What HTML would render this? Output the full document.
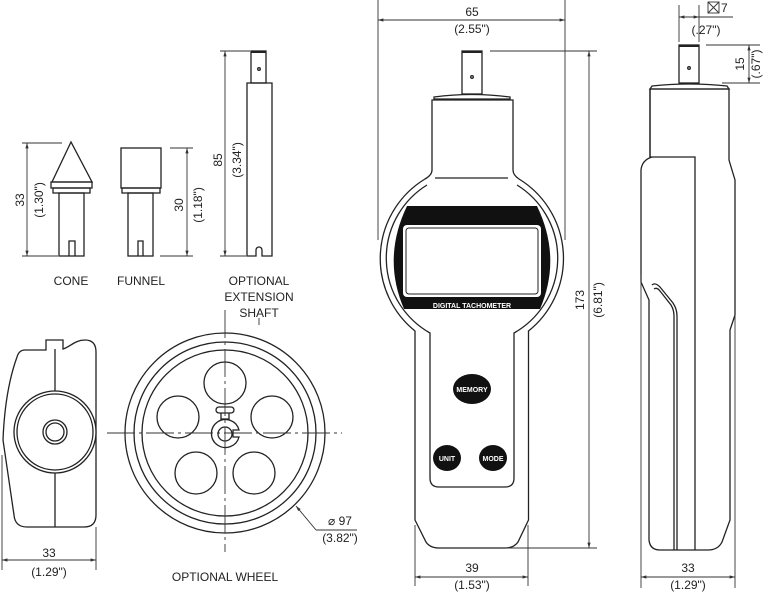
<!DOCTYPE html>
<html><head><meta charset="utf-8"><style>
html,body{margin:0;padding:0;background:#fff;}
svg{display:block;}
text{font-family:"Liberation Sans",sans-serif;font-size:12px;fill:#222;}
</style></head><body>
<svg width="764" height="592" viewBox="0 0 764 592" xmlns="http://www.w3.org/2000/svg">
<defs>
<marker id="a" viewBox="0 0 10 10" refX="10" refY="5" markerWidth="6" markerHeight="6" orient="auto-start-reverse"><path d="M0,2 L10,5 L0,8 z" fill="#333"/></marker>
</defs>
<g fill="none" stroke="#222" stroke-width="1.3">
<!-- CONE -->
<path d="M71,142 L52,182 L92,182 Z"/>
<rect x="51" y="182" width="41" height="6"/>
<rect x="53" y="188" width="37" height="5"/>
<rect x="59" y="193" width="25" height="63"/>
<path d="M69,256 V241 H75 V256"/>
<!-- FUNNEL -->
<rect x="121" y="148" width="40" height="40"/>
<rect x="122" y="188" width="38" height="5"/>
<rect x="128" y="193" width="25" height="63"/>
<path d="M138,256 V241 H143 V256"/>
<!-- SHAFT -->
<rect x="251" y="51" width="15" height="32"/>
<line x1="251" y1="52" x2="266" y2="52" stroke-width="2"/>
<circle cx="259" cy="69" r="1.3"/>
<path d="M247,83 H272 V256 H262 V250 A3,3 0 0 0 256,250 V256 H247 Z"/>
<!-- side attachment -->
<path d="M25,350 H46 V340 H63 V349 C70,347 75,340 85,340 Q96,340 96,352 V515 Q96,527 84,527 H27 Q15,527 14,515 L3,440 Q5,390 17,357 Q19,350 25,350 Z"/>
<line x1="55" y1="349" x2="55" y2="527"/>
<circle cx="55" cy="432" r="41" fill="#fff"/>
<circle cx="55" cy="432" r="38"/>
<circle cx="55" cy="432" r="12"/>
<circle cx="55" cy="432" r="9"/>
<!-- WHEEL -->
<circle cx="225" cy="433" r="100"/>
<circle cx="225" cy="433" r="91"/>
<circle cx="225" cy="433" r="83"/>
<circle cx="225" cy="383" r="21"/>
<circle cx="178" cy="417" r="21"/>
<circle cx="272" cy="417" r="21"/>
<circle cx="196" cy="473" r="21"/>
<circle cx="254" cy="473" r="21"/>
<path d="M239,437 A14,14 0 1 1 239,430 H233 V437 Z" fill="#fff"/>
<circle cx="225" cy="434" r="7"/>
<rect x="221" y="411" width="8" height="8" fill="#fff"/>
<rect x="216" y="407" width="18" height="6" rx="3" fill="#fff"/>
</g>
<g stroke="#333" stroke-width="0.9" fill="none">
<path d="M107,433 H342" stroke-dasharray="28,4,3,4"/>
<path d="M225,310 V552" stroke-dasharray="28,4,3,4"/>
<path d="M316,530 L296,506" marker-end="url(#a)"/>
<line x1="316" y1="530" x2="357" y2="530"/>
<line x1="22" y1="143" x2="62" y2="143"/><line x1="22" y1="256" x2="58" y2="256"/>
<line x1="27" y1="143" x2="27" y2="256" marker-start="url(#a)" marker-end="url(#a)"/>
<line x1="170" y1="148" x2="193" y2="148"/><line x1="160" y1="256" x2="193" y2="256"/>
<line x1="187" y1="148" x2="187" y2="256" marker-start="url(#a)" marker-end="url(#a)"/>
<line x1="220" y1="51" x2="250" y2="51"/><line x1="220" y1="256" x2="246" y2="256"/>
<line x1="225" y1="51" x2="225" y2="256" marker-start="url(#a)" marker-end="url(#a)"/>
<line x1="2" y1="455" x2="2" y2="570"/><line x1="96" y1="527" x2="96" y2="570"/>
<line x1="2" y1="560" x2="96" y2="560" marker-start="url(#a)" marker-end="url(#a)"/>
<line x1="259" y1="318" x2="259" y2="325"/>
</g>
<text x="71" y="285" text-anchor="middle">CONE</text>
<text x="141" y="285" text-anchor="middle">FUNNEL</text>
<text x="259" y="285" text-anchor="middle">OPTIONAL</text>
<text x="259" y="301" text-anchor="middle">EXTENSION</text>
<text x="259" y="317" text-anchor="middle">SHAFT</text>
<text transform="translate(24,200) rotate(-90)" text-anchor="middle">33</text>
<text transform="translate(43,200) rotate(-90)" text-anchor="middle">(1.30")</text>
<text transform="translate(183,205) rotate(-90)" text-anchor="middle">30</text>
<text transform="translate(202,205) rotate(-90)" text-anchor="middle">(1.18")</text>
<text transform="translate(222,160) rotate(-90)" text-anchor="middle">85</text>
<text transform="translate(241,160) rotate(-90)" text-anchor="middle">(3.34")</text>
<text x="49" y="557" text-anchor="middle">33</text>
<text x="49" y="576" text-anchor="middle">(1.29")</text>
<text x="340" y="525" text-anchor="middle">⌀ 97</text>
<text x="340" y="542" text-anchor="middle">(3.82")</text>
<text x="225" y="581" text-anchor="middle">OPTIONAL WHEEL</text>

<!-- MAIN DEVICE -->
<g fill="none" stroke="#222" stroke-width="1.3">
<rect x="462" y="51" width="20" height="43"/>
<line x1="462" y1="52" x2="482" y2="52" stroke-width="2"/>
<circle cx="472" cy="77" r="1.3"/>
<path d="M434,97 Q472,92 510,97 L510,99 H434 Z"/>
<path d="M432,100 H513 V170 Q513,175 519,179 A93,93 0 0 1 528.5,331 V520 L518,542 Q514,548 505,548 H439 Q430,548 426,542 L415,520 V331 A93,93 0 0 1 425,179 Q432,175 432,170 Z"/>
<line x1="435" y1="178" x2="508" y2="178"/>
<path d="M427,185 A86,86 0 0 0 430,333 V478 Q430,487 439,487 H505 Q514,487 514,478 V333 A86,86 0 0 0 517,185"/>
</g>
<path d="M407,206 H537 Q562,258 540,309 H404 Q382,258 407,206 Z" fill="#111"/>
<rect x="403" y="225" width="138" height="72" rx="4" fill="#fff"/>
<rect x="406" y="228" width="132" height="66" rx="3" fill="none" stroke="#222" stroke-width="1"/>
<text x="472" y="308" text-anchor="middle" style="font-size:7px;font-weight:bold;fill:#fff">DIGITAL TACHOMETER</text>
<ellipse cx="472" cy="389" rx="19" ry="15" fill="#111"/>
<ellipse cx="447" cy="458" rx="14" ry="13" fill="#111"/>
<ellipse cx="493" cy="458" rx="14" ry="13" fill="#111"/>
<text x="472" y="392" text-anchor="middle" style="font-size:7px;font-weight:bold;fill:#fff">MEMORY</text>
<text x="447" y="461" text-anchor="middle" style="font-size:7px;font-weight:bold;fill:#fff">UNIT</text>
<text x="493" y="461" text-anchor="middle" style="font-size:7px;font-weight:bold;fill:#fff">MODE</text>
<g stroke="#333" stroke-width="0.9" fill="none">
<line x1="378" y1="0" x2="378" y2="240"/><line x1="565" y1="0" x2="565" y2="240"/>
<line x1="378" y1="20" x2="565" y2="20" marker-start="url(#a)" marker-end="url(#a)"/>
<line x1="490" y1="51" x2="597" y2="51"/><line x1="505" y1="548" x2="597" y2="548"/>
<line x1="589" y1="51" x2="589" y2="548" marker-start="url(#a)" marker-end="url(#a)"/>
<line x1="415" y1="525" x2="415" y2="586"/><line x1="528" y1="525" x2="528" y2="586"/>
<line x1="415" y1="577" x2="528" y2="577" marker-start="url(#a)" marker-end="url(#a)"/>
</g>
<text x="472" y="16" text-anchor="middle">65</text>
<text x="472" y="33" text-anchor="middle">(2.55")</text>
<text transform="translate(584,300) rotate(-90)" text-anchor="middle">173</text>
<text transform="translate(602,300) rotate(-90)" text-anchor="middle">(6.81")</text>
<text x="472" y="572" text-anchor="middle">39</text>
<text x="472" y="589" text-anchor="middle">(1.53")</text>

<!-- SIDE VIEW -->
<g fill="none" stroke="#222" stroke-width="1.3">
<rect x="679" y="45" width="20" height="38"/>
<line x1="679" y1="46" x2="699" y2="46" stroke-width="2"/>
<circle cx="689" cy="68" r="1.3"/>
<path d="M652,86 Q689,82 727,86 L729,89 H650 Z"/>
<path d="M650,89 H729 V160 L735,180 V315 L730,330 V520 L722,542 Q718,550 708,550 H660 Q650,550 649,540 V300 L641,282 V170 Q642,160 652,157 H650 Z"/>
<path d="M650,89 V157"/>
<path d="M652,157 H695 V550"/>
<path d="M652,285 Q655,282 660,287 L673,303 Q677,309 677,316 V550"/>
<path d="M654,289 Q657,287 660,291 L671,305 Q674,310 674,316 V550"/>
</g>
<g stroke="#333" stroke-width="0.9" fill="none">
<line x1="679" y1="5" x2="679" y2="42"/><line x1="699" y1="5" x2="699" y2="42"/>
<line x1="679" y1="17" x2="699" y2="17" marker-start="url(#a)" marker-end="url(#a)"/>
<line x1="699" y1="17" x2="733" y2="17"/>
<rect x="708" y="2" width="11" height="11"/>
<path d="M708,2 L719,13 M719,2 L708,13"/>
<line x1="706" y1="45" x2="760" y2="45"/><line x1="722" y1="83" x2="760" y2="83"/>
<line x1="749" y1="45" x2="749" y2="83" marker-start="url(#a)" marker-end="url(#a)"/>
<line x1="641" y1="275" x2="641" y2="588"/><line x1="735" y1="315" x2="735" y2="588"/>
<line x1="641" y1="577" x2="735" y2="577" marker-start="url(#a)" marker-end="url(#a)"/>
</g>
<text x="721" y="12">7</text>
<text x="706" y="34" text-anchor="middle">(.27")</text>
<text transform="translate(744,64) rotate(-90)" text-anchor="middle">15</text>
<text transform="translate(760,64) rotate(-90)" text-anchor="middle">(.67")</text>
<text x="688" y="572" text-anchor="middle">33</text>
<text x="688" y="589" text-anchor="middle">(1.29")</text>
</svg>
</body></html>
